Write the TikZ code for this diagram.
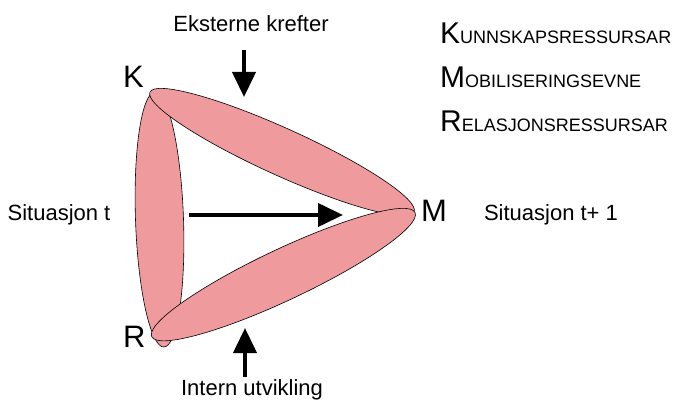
\documentclass[tikz,border=0pt]{standalone}
\usepackage{fontspec}
\setmainfont{Liberation Sans}
\usetikzlibrary{shapes.geometric,arrows.meta}
\definecolor{petalfill}{RGB}{239,155,158}
\begin{document}
\begin{tikzpicture}[x=1pt,y=-1pt,
  petal/.style={ellipse, draw=black, line width=0.6pt, fill=petalfill, inner sep=0pt, outer sep=0pt},
  bigarrow/.style={line width=4pt, -{Triangle[length=25pt,width=23pt]}},
  lbl/.style={font=\fontsize{22}{22}\selectfont, inner sep=0pt, anchor=base},
  corner/.style={font=\fontsize{31}{31}\selectfont, inner sep=0pt, anchor=base west},
  restext/.style={inner sep=0pt, anchor=base west}]
\useasboundingbox (0,0) rectangle (677,403);
% petals
\node[petal, minimum width=255.2pt, minimum height=48pt, rotate=92.0] (kr) at (159.5,219.5) {};
\node[petal, minimum width=290pt, minimum height=47pt, rotate=-24.4] (km) at (282,152) {};
\node[petal, minimum width=291.1pt, minimum height=51pt, rotate=25.25] (rm) at (283.4,274.6) {};
% corner letters
\node[corner] (lk) at (123,88) {K};
\node[corner] (lm) at (421,222) {M};
\node[corner] (lr) at (123,347) {R};
% labels
\node[lbl] (ext) at (251,32) {Eksterne krefter};
\node[lbl] (int) at (252,395) {Intern utvikling};
\node[lbl] (sit) at (59,221) {Situasjon t};
\node[lbl] (sitnext) at (551,221) {Situasjon t+ 1};
% arrows
\coordinate (extstart) at (244,50);
\coordinate (extend) at (244,97);
\coordinate (intstart) at (245,377);
\coordinate (intend) at (245,328);
\coordinate (hstart) at (189,215);
\coordinate (hend) at (343,215);
\draw[bigarrow] (extstart) -- (extend);
\draw[bigarrow] (intstart) -- (intend);
\draw[bigarrow] (hstart) -- (hend);
% resource list
\node[restext] (res1) at (440,43.3) {\fontsize{30}{30}\selectfont K\fontsize{18}{18}\selectfont UNNSKAPSRESSURSAR};
\node[restext] (res2) at (440,87.3) {\fontsize{30}{30}\selectfont M\fontsize{18}{18}\selectfont OBILISERINGSEVNE};
\node[restext] (res3) at (440,131.7) {\fontsize{30}{30}\selectfont R\fontsize{18}{18}\selectfont ELASJONSRESSURSAR};
\end{tikzpicture}
\end{document}
